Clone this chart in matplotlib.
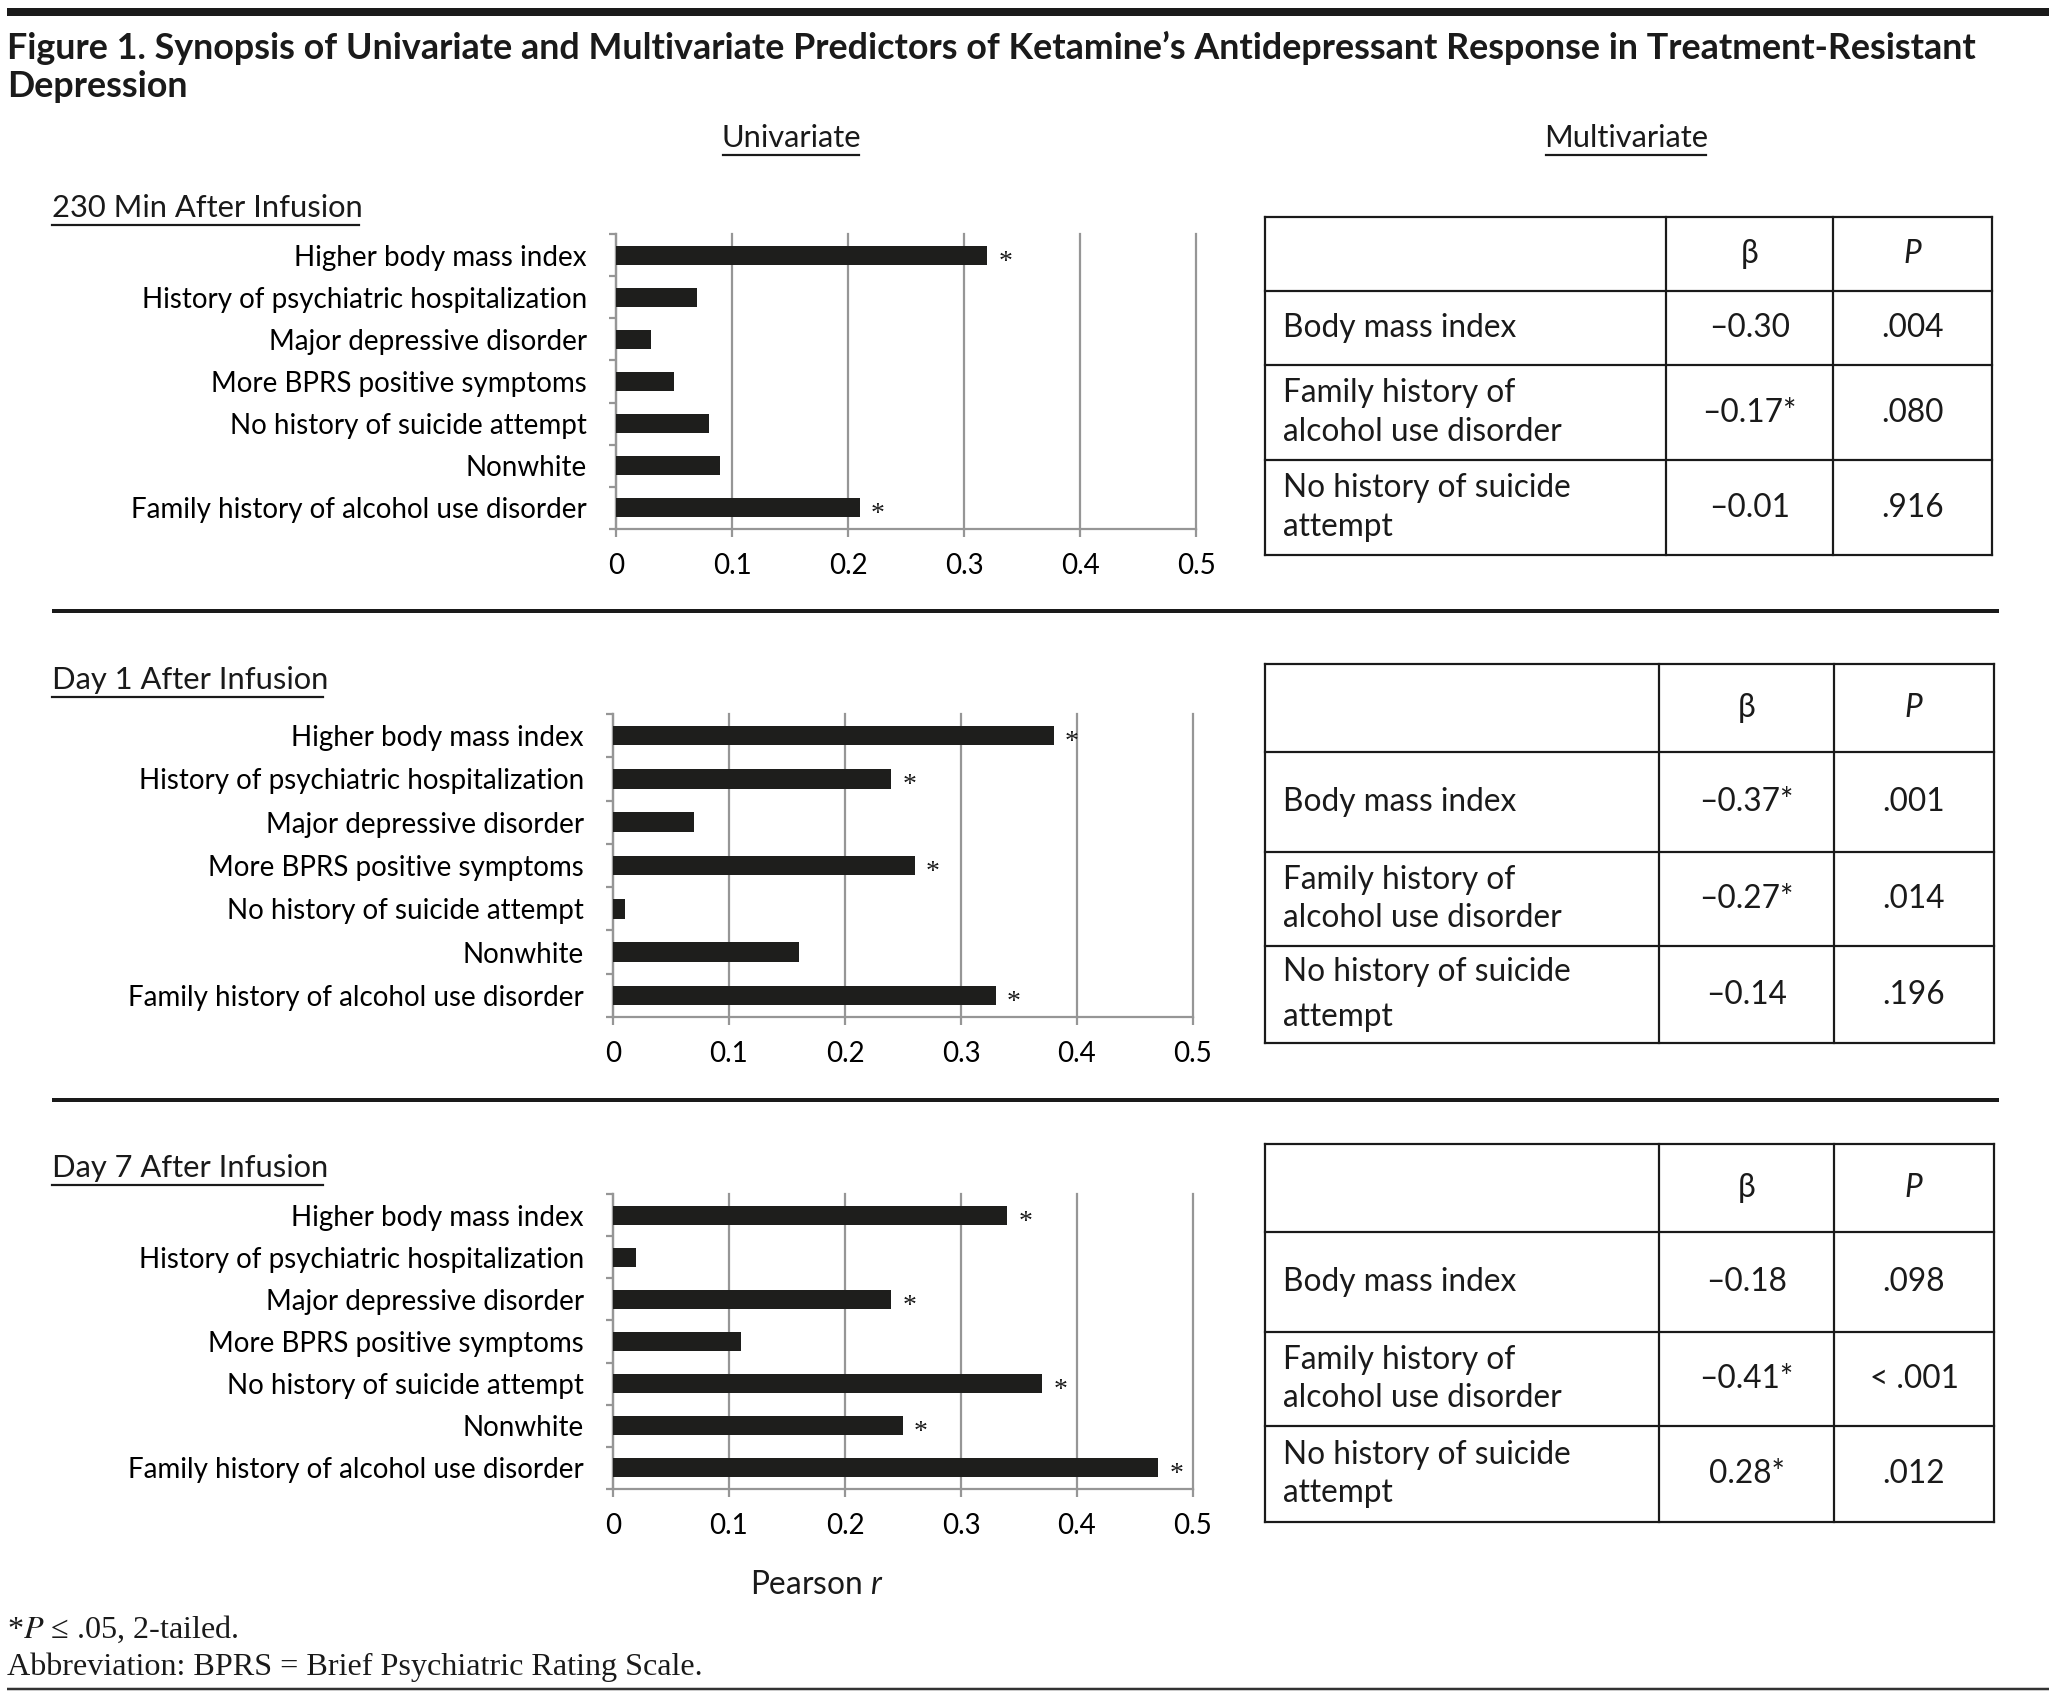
import matplotlib
matplotlib.use('Agg')
import matplotlib.pyplot as plt
from matplotlib.font_manager import FontProperties
from matplotlib.textpath import TextPath

plt.rcParams['font.family'] = ['Lato', 'DejaVu Sans']
plt.rcParams['mathtext.fontset'] = 'custom'
plt.rcParams['mathtext.rm'] = 'Lato'
plt.rcParams['mathtext.it'] = 'Lato:italic'

# ---------------- data ----------------
title_lines = ['Figure 1. Synopsis of Univariate and Multivariate Predictors of Ketamine\u2019s '
               'Antidepressant Response in Treatment-Resistant', 'Depression']
panel_titles = ['230 Min After Infusion', 'Day 1 After Infusion', 'Day 7 After Infusion']
predictors = ['Higher body mass index', 'History of psychiatric hospitalization',
              'Major depressive disorder', 'More BPRS positive symptoms',
              'No history of suicide attempt', 'Nonwhite',
              'Family history of alcohol use disorder']
r_230min = [0.32, 0.07, 0.03, 0.05, 0.08, 0.09, 0.21]
r_day1 = [0.38, 0.24, 0.07, 0.26, 0.01, 0.16, 0.33]
r_day7 = [0.34, 0.02, 0.24, 0.11, 0.37, 0.25, 0.47]
sig_230min = [1, 0, 0, 0, 0, 0, 1]
sig_day1 = [1, 1, 0, 1, 0, 0, 1]
sig_day7 = [1, 0, 1, 0, 1, 1, 1]
x_ticks = [0, 0.1, 0.2, 0.3, 0.4, 0.5]
x_ticklabels = ['0', '0.1', '0.2', '0.3', '0.4', '0.5']

table_header = ['', '\u03b2', '$\\mathit{P}$']
table_labels = ['Body mass index', 'Family history of\nalcohol use disorder',
                'No history of suicide\nattempt']
beta_230min = ['\u20130.30', '\u20130.17*', '\u20130.01']
p_230min = ['.004', '.080', '.916']
beta_day1 = ['\u20130.37*', '\u20130.27*', '\u20130.14']
p_day1 = ['.001', '.014', '.196']
beta_day7 = ['\u20130.18', '\u20130.41*', '0.28*']
p_day7 = ['.098', '< .001', '.012']

r_values = [r_230min, r_day1, r_day7]
sig_values = [sig_230min, sig_day1, sig_day7]
betas = [beta_230min, beta_day1, beta_day7]
pvals = [p_230min, p_day1, p_day7]

footnotes = ['*$\\mathit{P}$ \u2264 .05, 2-tailed.',
             'Abbreviation: BPRS = Brief Psychiatric Rating Scale.']

# ---------------- layout (pixels, y from top) ----------------
W, H = 2059, 1698
SANS, SERIF = 'Lato', 'Liberation Serif'
bar_c, grid_c = '#1e1e1c', '#969696'
chart_boxes = [(616, 234, 1196, 529), (613, 714, 1193, 1017), (613, 1194, 1193, 1489)]
panel_title_base = [217, 689, 1177]
sep_y = [611, 1100]
table_cols = [[1265, 1666, 1833, 1992], [1265, 1659, 1834, 1994], [1265, 1659, 1834, 1994]]
table_rows_y = [[217, 291, 365, 460, 555], [664, 752, 852, 946, 1043],
                [1144, 1232, 1332, 1426, 1522]]
label_spacing = [1.35, 1.6, 1.35]


def text_px(s, size, family=SANS, weight='normal', style='normal'):
    tp = TextPath((0, 0), s, size=size,
                  prop=FontProperties(family=family, weight=weight, style=style))
    return tp.get_extents().width * 100 / 72


def fit(s, px, **kw):
    return 10 * px / text_px(s, 10, **kw)


title_fs = fit(title_lines[0], 1969, weight='bold')
label_fs = fit(predictors[1], 440)
head_fs = fit(panel_titles[0], 307)
cell_fs = fit('alcohol use disorder', 277)
note_fs = fit(footnotes[1], 693, family=SERIF)


def frac(x0, y0, x1, y1):
    return [x0 / W, 1 - y1 / H, (x1 - x0) / W, (y1 - y0) / H]


fig = plt.figure(figsize=(W / 100, H / 100), dpi=100, facecolor='white')
page = fig.add_axes([0, 0, 1, 1])
page.set_xlim(0, W)
page.set_ylim(H, 0)
page.axis('off')

# rules
page.plot([7, 2049], [12, 12], color='#1a1a1a', lw=8 * 0.72, solid_capstyle='butt')
for y in sep_y:
    page.plot([52, 1999], [y, y], color='#1a1a1a', lw=4 * 0.72, solid_capstyle='butt')
page.plot([7, 2049], [1689, 1689], color='#333333', lw=2.5 * 0.72, solid_capstyle='butt')

# title
page.text(7, 59, title_lines[0], fontsize=title_fs, weight='bold', va='baseline', color='#1a1a1a')
page.text(7, 97, title_lines[1], fontsize=title_fs, weight='bold', va='baseline', color='#1a1a1a')


def underlined(x, y, s, size, ha='left'):
    w = text_px(s, size)
    page.text(x, y, s, fontsize=size, ha=ha, va='baseline', color='#1a1a1a')
    xs = x if ha == 'left' else x - w / 2
    page.plot([xs, xs + w], [y + 8, y + 8], color='#1a1a1a', lw=2.2 * 0.72)


underlined(791, 147, 'Univariate', head_fs, ha='center')
underlined(1626, 147, 'Multivariate', head_fs, ha='center')
for k, t in enumerate(panel_titles):
    underlined(52, panel_title_base[k], t, head_fs)

# bar charts
for k in range(3):
    ax = fig.add_axes(frac(*chart_boxes[k]))
    ax.patch.set_alpha(0)
    n = len(predictors)
    ys = list(range(n))
    ax.barh(ys, r_values[k], height=0.45, color=bar_c, zorder=3)
    ax.set_xlim(0, 0.5)
    ax.set_ylim(n - 0.5, -0.5)
    ax.set_xticks(x_ticks, x_ticklabels)
    ax.set_yticks(ys, predictors)
    ax.set_yticks([i - 0.5 for i in range(n + 1)], minor=True)
    ax.tick_params(axis='y', which='major', length=0, pad=21, labelsize=label_fs)
    ax.tick_params(axis='y', which='minor', length=5, width=1.6, color=grid_c)
    ax.tick_params(axis='x', length=6, width=1.6, color=grid_c, pad=11, labelsize=label_fs)
    ax.grid(axis='x', color=grid_c, lw=1.6, zorder=0)
    for gl in ax.get_xgridlines():
        gl.set_clip_on(False)
    for s in ['top', 'right']:
        ax.spines[s].set_visible(False)
    for s in ['left', 'bottom']:
        ax.spines[s].set_color(grid_c)
        ax.spines[s].set_linewidth(1.6)
    for i, (v, sg) in enumerate(zip(r_values[k], sig_values[k])):
        if sg:
            ax.annotate('*', (v, i), xytext=(13, -5), textcoords='offset points',
                        ha='center', va='center', fontsize=20, family=SERIF, color='#1a1a1a')

page.text(817, 1594, 'Pearson $\\mathit{r}$', fontsize=cell_fs, ha='center', va='baseline',
          color='#1a1a1a')

# tables
for k in range(3):
    cx, ry = table_cols[k], table_rows_y[k]
    for y in ry:
        page.plot([cx[0], cx[-1]], [y, y], color='#1a1a1a', lw=2.2 * 0.72, solid_capstyle='projecting')
    for x in cx:
        page.plot([x, x], [ry[0], ry[-1]], color='#1a1a1a', lw=2.2 * 0.72, solid_capstyle='projecting')
    yc = (ry[0] + ry[1]) / 2
    for c in (1, 2):
        page.text((cx[c] + cx[c + 1]) / 2, yc, table_header[c], fontsize=cell_fs,
                  ha='center', va='center', color='#1a1a1a')
    for j in range(len(table_labels)):
        yc = (ry[j + 1] + ry[j + 2]) / 2
        sp = label_spacing[k] if j == 2 else 1.35
        page.text(cx[0] + 18, yc, table_labels[j], fontsize=cell_fs, ha='left', va='center',
                  linespacing=sp, color='#1a1a1a')
        page.text((cx[1] + cx[2]) / 2, yc, betas[k][j], fontsize=cell_fs, ha='center',
                  va='center', color='#1a1a1a')
        page.text((cx[2] + cx[3]) / 2, yc, pvals[k][j], fontsize=cell_fs, ha='center',
                  va='center', color='#1a1a1a')

# footnotes
page.text(7, 1638, footnotes[0], fontsize=note_fs, family=[SERIF, 'DejaVu Serif'],
          math_fontfamily='stix', va='baseline', color='#1a1a1a')
page.text(7, 1675, footnotes[1], fontsize=note_fs, family=[SERIF, 'DejaVu Serif'],
          va='baseline', color='#1a1a1a')

fig.savefig('out.png', dpi=100, facecolor='white')
